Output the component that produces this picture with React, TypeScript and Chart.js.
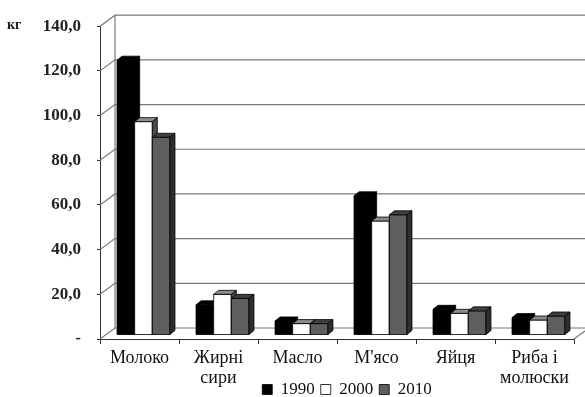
import React, { useEffect, useRef } from "react";
import { Chart, registerables } from "chart.js";

Chart.register(...registerables);

// Consumption per capita, kg
const categories: string[][] = [
  ["Молоко"],
  ["Жирні", "сири"],
  ["Масло"],
  ["М'ясо"],
  ["Яйця"],
  ["Риба і", "молюски"],
];
const years = ["1990", "2000", "2010"];
const values1990 = [123.0, 13.5, 6.3, 62.3, 11.5, 7.8];
const values2000 = [95.5, 18.2, 5.1, 51.0, 9.7, 6.7];
const values2010 = [88.5, 16.4, 5.1, 53.8, 10.8, 8.5];
const yTicks = [0, 20, 40, 60, 80, 100, 120, 140];
const unitLabel = "кг";

// pseudo-3D geometry
const WALL_DX = 15;
const WALL_DY = -11;
const BAR_DX = 4;
const BAR_DY = -4;
const DEPTH_DX = 5;
const DEPTH_DY = -4;

const frontColors = ["#000000", "#ffffff", "#5e5e5e"];
const topColors = ["#000000", "#8c8c8c", "#404040"];
const sideColors = ["#000000", "#4a4a4a", "#2e2e2e"];

const SERIF = "'Liberation Serif', 'Times New Roman', serif";

const fmt = (v: number) => (v === 0 ? "-" : v.toFixed(1).replace(".", ","));

const box3d = {
  id: "box3d",
  afterLayout(chart: any) {
    const lg = chart.legend;
    if (!lg) return;
    const h = lg.bottom - lg.top;
    const w = lg.right - lg.left;
    const cx = 347;
    lg.top = 375;
    lg.bottom = 375 + h;
    lg.left = cx - w / 2;
    lg.right = cx + w / 2;
  },
  beforeDatasetsDraw(chart: any) {
    const { ctx, chartArea, scales } = chart;
    const ys = scales.y;
    const { left, right, top, bottom } = chartArea;
    ctx.save();
    ctx.strokeStyle = "#7a7a7a";
    ctx.lineWidth = 1.2;
    yTicks.forEach((v) => {
      const py = ys.getPixelForValue(v);
      ctx.beginPath();
      ctx.moveTo(left, py);
      ctx.lineTo(left + WALL_DX, py + WALL_DY);
      ctx.lineTo(right + WALL_DX, py + WALL_DY);
      ctx.stroke();
    });
    ctx.beginPath();
    ctx.moveTo(left + WALL_DX, top + WALL_DY);
    ctx.lineTo(left + WALL_DX, bottom + WALL_DY);
    ctx.moveTo(right, bottom);
    ctx.lineTo(right + WALL_DX, bottom + WALL_DY);
    ctx.stroke();

    // unit label
    ctx.fillStyle = "#222";
    ctx.font = `bold 14px ${SERIF}`;
    ctx.textBaseline = "middle";
    ctx.textAlign = "left";
    ctx.fillText(unitLabel, 7, ys.getPixelForValue(140) - 1);
    ctx.restore();

    ctx.save();
    ctx.translate(BAR_DX, BAR_DY);
  },
  afterDatasetsDraw(chart: any) {
    const ctx = chart.ctx;
    const n = chart.data.labels.length;
    const metas = chart.data.datasets.map((_: any, i: number) => chart.getDatasetMeta(i));
    const poly = (pts: number[][], fill: string) => {
      ctx.beginPath();
      ctx.moveTo(pts[0][0], pts[0][1]);
      for (let k = 1; k < pts.length; k++) ctx.lineTo(pts[k][0], pts[k][1]);
      ctx.closePath();
      ctx.fillStyle = fill;
      ctx.fill();
      ctx.stroke();
    };
    ctx.lineWidth = 0.8;
    ctx.strokeStyle = "#000";
    ctx.lineJoin = "round";
    for (let j = 0; j < n; j++) {
      metas.forEach((meta: any, d: number) => {
        const el = meta.data[j];
        if (!el) return;
        const { x, y, base, width } = el.getProps(["x", "y", "base", "width"], true);
        const l = x - width / 2;
        const r = x + width / 2;
        poly([[l, base], [l, y], [r, y], [r, base]], frontColors[d]);
        poly([[l, y], [l + DEPTH_DX, y + DEPTH_DY], [r + DEPTH_DX, y + DEPTH_DY], [r, y]], topColors[d]);
        poly([[r, y], [r + DEPTH_DX, y + DEPTH_DY], [r + DEPTH_DX, base + DEPTH_DY], [r, base]], sideColors[d]);
      });
    }
    ctx.restore();
  },
};

export default function App() {
  const ref = useRef<HTMLCanvasElement | null>(null);

  useEffect(() => {
    if (!ref.current) return;
    const series = [values1990, values2000, values2010];
    const chart = new Chart(ref.current, {
      type: "bar",
      data: {
        labels: categories,
        datasets: years.map((yr, i) => ({
          label: yr,
          data: series[i],
          backgroundColor: frontColors[i],
          borderColor: "#000",
          borderWidth: 0.8,
          categoryPercentage: 0.67,
          barPercentage: 1,
        })),
      },
      options: {
        responsive: false,
        animation: false,
        layout: { padding: { left: 0, right: 11, top: 26, bottom: -30 } },
        plugins: {
          tooltip: { enabled: false },
          legend: {
            position: "bottom",
            labels: {
              boxWidth: 10,
              boxHeight: 10,
              padding: 6,
              color: "#111",
              font: { family: SERIF, size: 17 },
            },
          },
        },
        scales: {
          x: {
            grid: {
              offset: true,
              drawOnChartArea: false,
              drawTicks: true,
              tickLength: 5,
              color: "#333",
            },
            border: { color: "#333", width: 1 },
            ticks: {
              padding: 4,
              color: "#111",
              font: { family: SERIF, size: 18, lineHeight: 1.12 },
              maxRotation: 0,
              autoSkip: false,
            },
            afterFit: (s: any) => {
              s.height = 55;
            },
          },
          y: {
            min: 0,
            max: 140,
            grid: {
              drawOnChartArea: false,
              drawTicks: true,
              tickLength: 3,
              color: "#333",
            },
            border: { color: "#333", width: 1 },
            ticks: {
              stepSize: 20,
              padding: 16,
              color: "#222",
              font: { family: SERIF, size: 17, weight: "bold" },
              callback: (v: any) => fmt(Number(v)),
            },
            afterFit: (s: any) => {
              s.width = 100;
            },
          },
        },
      },
      plugins: [box3d],
    } as any);
    return () => chart.destroy();
  }, []);

  return (
    <div style={{ position: "absolute", left: 0, top: 0, width: 585, height: 397, background: "#fff" }}>
      <canvas ref={ref} width={585} height={397} />
    </div>
  );
}
